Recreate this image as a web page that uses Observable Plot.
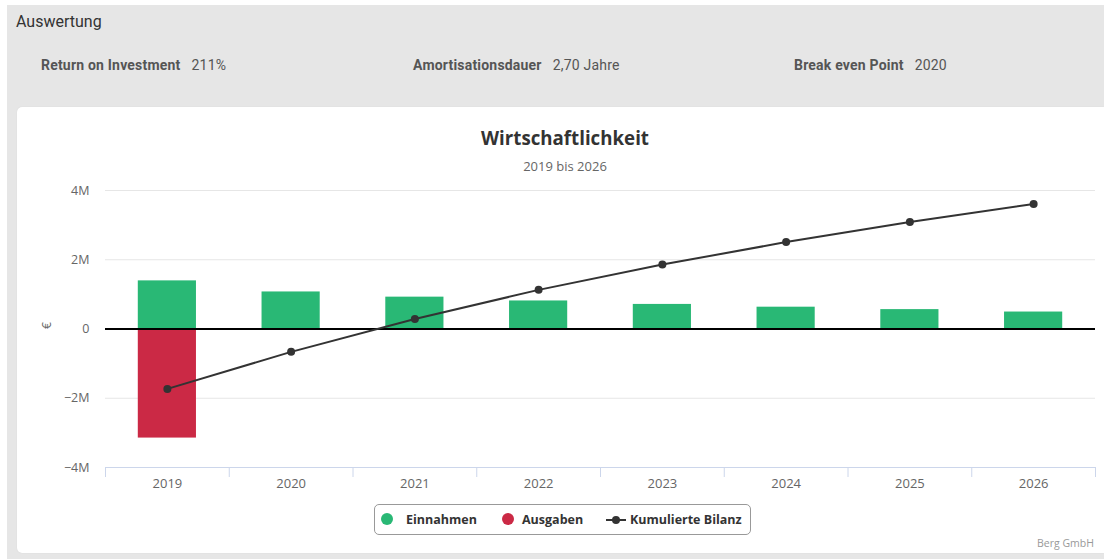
<!DOCTYPE html>
<html>
<head>
<meta charset="utf-8">
<script src="https://cdn.jsdelivr.net/npm/d3@7"></script>
<script src="https://cdn.jsdelivr.net/npm/@observablehq/plot@0.6"></script>
<style>
  html, body { margin: 0; padding: 0; width: 1104px; height: 559px; overflow: hidden; background: #fff; }
  #panel { position: absolute; left: 7px; top: 5px; width: 1097px; height: 554px; background: #e6e6e6; }
  .hdr { position: absolute; font-family: Roboto, "Liberation Sans", sans-serif; color: #333; white-space: nowrap; }
  .metric { position: absolute; top: 57px; font-family: Roboto, "Liberation Sans", sans-serif; font-size: 14px; color: #555; white-space: nowrap; letter-spacing: 0.2px; }
  .metric b { font-weight: 700; color: #555; margin-right: 11px; }
  #card { position: absolute; left: 17px; top: 107px; width: 1087px; height: 446px; background: #fff; border-radius: 5px 0 0 5px; box-shadow: 0 0 1px #ccc; }
  .t { position: absolute; font-family: "Open Sans", "DejaVu Sans", sans-serif; white-space: nowrap; transform: translateX(-50%); text-align: center; }
  #chart { position: absolute; left: 17px; top: 180px; }
  #legend { position: absolute; left: 374px; top: 504px; width: 377px; height: 31px; box-sizing: border-box; border: 1px solid #999; border-radius: 5px; background: #fff;
            font-family: "Open Sans", "DejaVu Sans", sans-serif; font-weight: 700; font-size: 12.5px; color: #333; }
  .li { position: absolute; top: 6px; white-space: nowrap; }
  .dot { position: absolute; width: 12px; height: 12px; border-radius: 6px; top: 8px; }
  #credits { position: absolute; right: 10px; top: 536px; font-family: "Open Sans", "DejaVu Sans", sans-serif; font-size: 10.5px; color: #999; }
</style>
</head>
<body>
<div id="panel"></div>
<div class="hdr" style="left:16px; top:12px; font-size:16px;">Auswertung</div>
<div class="metric" style="left:41px;"><b>Return on Investment</b>211%</div>
<div class="metric" style="left:413px;"><b>Amortisationsdauer</b>2,70 Jahre</div>
<div class="metric" style="left:794px;"><b>Break even Point</b>2020</div>
<div id="card"></div>
<div class="t" style="left:565px; top:125px; font-size:18.7px; font-weight:700; color:#333;">Wirtschaftlichkeit</div>
<div class="t" style="left:565px; top:157px; font-size:13px; color:#666;">2019 bis 2026</div>
<div id="chart"></div>
<div id="legend">
  <div class="dot" style="left:6px; background:#29b875;"></div>
  <div class="li" style="left:31px;">Einnahmen</div>
  <div class="dot" style="left:127px; background:#cb2945;"></div>
  <div class="li" style="left:147px;">Ausgaben</div>
  <svg style="position:absolute; left:231px; top:8px;" width="20" height="14"><line x1="0" y1="7" x2="20" y2="7" stroke="#333" stroke-width="2"/><circle cx="10" cy="7" r="4" fill="#333"/></svg>
  <div class="li" style="left:255px;">Kumulierte Bilanz</div>
</div>
<div id="credits">Berg GmbH</div>
<script>
// ---- data ----
const years = [2019, 2020, 2021, 2022, 2023, 2024, 2025, 2026];
const einnahmen = [1390000, 1070000, 920000, 810000, 710000, 630000, 560000, 490000];
const ausgaben = [-3150000, 0, 0, 0, 0, 0, 0, 0];
const bilanz = [-1730000, -660000, 290000, 1130000, 1860000, 2510000, 3090000, 3610000];
const yTicks = [-4000000, -2000000, 0, 2000000, 4000000];
const gridTicks = [-2000000, 2000000, 4000000];

const rows = years.map((y, i) => ({year: y, ein: einnahmen[i], aus: ausgaben[i], bil: bilanz[i]}));

const W = 1087, H = 320, ML = 88, MR = 9, MT = 10, MB = 33;
const step = (W - ML - MR) / years.length;
const fmtM = d => d === 0 ? "0" : (d < 0 ? "\u2212" : "") + Math.abs(d / 1e6) + "M";

const chart = Plot.plot({
  width: W, height: H,
  marginLeft: ML, marginRight: MR, marginTop: MT, marginBottom: MB,
  style: {fontFamily: "'Open Sans', 'DejaVu Sans', sans-serif", fontSize: "12px", color: "#666", background: "transparent"},
  x: {type: "band", domain: years, paddingInner: 0.53, paddingOuter: 0.265, round: false, label: null},
  y: {domain: [-4000000, 4000000], label: null},
  marks: [
    Plot.ruleY(gridTicks, {stroke: "#e6e6e6", strokeWidth: 1}),
    Plot.ruleY([-4000000], {stroke: "#ccd6eb", strokeWidth: 1}),
    Plot.axisY({ticks: yTicks, tickSize: 0, tickPadding: 16, tickFormat: fmtM, fontSize: 12.5, fill: "#666", label: null}),
    Plot.text(["€"], {y: 0, frameAnchor: "left", dx: -58, rotate: -90, fill: "#666", fontSize: 12}),
    Plot.axisX({tickSize: 0, tickPadding: 11, fontSize: 13, fill: "#666", label: null, tickFormat: d => String(d)}),
    Plot.axisX({tickSize: 10, tickFormat: () => "", stroke: "#ccd6eb", dx: -step / 2, label: null}),
    Plot.axisX({ticks: [years[years.length - 1]], tickSize: 10, tickFormat: () => "", stroke: "#ccd6eb", dx: step / 2, label: null}),
    Plot.barY(rows, {x: "year", y: "ein", fill: "#29b875"}),
    Plot.barY(rows.filter(d => d.aus !== 0), {x: "year", y: "aus", fill: "#cb2945"}),
    Plot.ruleY([0], {stroke: "#000", strokeWidth: 2}),
    Plot.line(rows, {x: "year", y: "bil", stroke: "#333", strokeWidth: 2}),
    Plot.dot(rows, {x: "year", y: "bil", r: 4, fill: "#333"})
  ]
});
document.getElementById("chart").appendChild(chart);
</script>
</body>
</html>
